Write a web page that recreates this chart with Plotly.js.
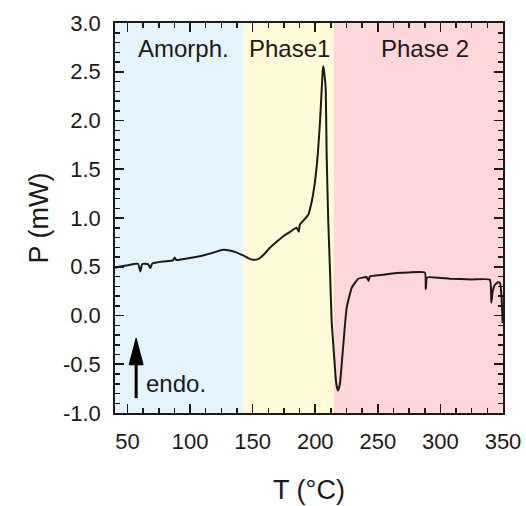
<!DOCTYPE html>
<html>
<head>
<meta charset="utf-8">
<script src="https://cdn.plot.ly/plotly-3.0.1.min.js"></script>
<style>html,body{margin:0;padding:0;background:#fff}#chart{width:526px;height:506px}</style>
</head>
<body>
<div id="chart"></div>
<script>
// Temperature (°C) and power (mW)
const temperature = [
  40.2, 41.0, 49.0, 58.4, 60.2, 61.8, 66.4, 68.2, 69.8, 78.4, 86.3, 87.7, 89.0,
  99.7, 110.3, 118.3, 126.3, 131.6, 136.9, 142.3, 146.3, 150.3, 154.3, 158.2,
  163.6, 168.9, 174.2, 179.6, 185.0, 186.8, 187.6, 189.5, 194.4, 197.2, 199.8,
  202.0, 203.8, 205.2, 205.9, 206.4, 207.1, 208.3, 209.1, 210.4, 211.8, 213.1,
  215.0, 216.6, 218.0, 219.6, 222.4, 225.1, 229.1, 231.8, 234.3, 241.0, 242.6,
  243.6, 254.3, 265.0, 275.0, 287.6, 288.3, 289.3, 300.0, 307.6, 325.0, 339.5,
  340.7, 341.8, 343.5, 346.0, 347.6, 348.8, 349.7
];
const power = [
  0.49, 0.493, 0.513, 0.531, 0.452, 0.528, 0.528, 0.487, 0.534, 0.555, 0.565, 0.595, 0.569,
  0.589, 0.616, 0.644, 0.675, 0.667, 0.647, 0.616, 0.589, 0.572, 0.579, 0.616,
  0.692, 0.753, 0.811, 0.856, 0.90, 0.86, 0.93, 0.96, 1.034, 1.17, 1.376,
  1.65, 1.99, 2.335, 2.50, 2.556, 2.50, 2.335, 1.65, 0.965, 0.452, -0.062,
  -0.404, -0.678, -0.77, -0.71, -0.30, 0.079, 0.284, 0.336, 0.377, 0.394, 0.355,
  0.40, 0.418, 0.435, 0.442, 0.44, 0.27, 0.39, 0.385, 0.377, 0.37, 0.367,
  0.134, 0.25, 0.315, 0.34, 0.333, 0.2, -0.08
];

// Phase regions (°C boundaries), colours and labels
const regionStart = [40, 142, 215];
const regionEnd   = [142, 215, 350];
const regionColor = ['#e4f4fd', '#fffad8', '#ffd6d9'];
const regionLabel = ['Amorph.', 'Phase1', 'Phase 2'];
const regionLabelX = [95, 179.5, 288];
const regionLabelY = 2.74;

// Axis ticks (y labels written with an ASCII hyphen, as in the original)
const xTickStart = 50, xTickStep = 50, xMinorStep = 12.5;
const yTickVals = [-1.0, -0.5, 0.0, 0.5, 1.0, 1.5, 2.0, 2.5, 3.0];
const yTickText = ['-1.0', '-0.5', '0.0', '0.5', '1.0', '1.5', '2.0', '2.5', '3.0'];
const yMinorStep = 0.1;

const FONT = 'Liberation Sans, Arial, Helvetica, sans-serif';
const INK = '#1c1a17';

const shapes = regionStart.map((s, i) => ({
  type: 'rect', xref: 'x', yref: 'paper', x0: s, x1: regionEnd[i], y0: 0, y1: 1,
  fillcolor: regionColor[i], line: {width: 0}, layer: 'below'
}));
// "endo." arrow: shaft and head
shapes.push({type: 'line', xref: 'x', yref: 'y', x0: 56.9, x1: 56.9, y0: -0.848, y1: -0.49,
  line: {color: '#000', width: 3}});
shapes.push({type: 'path', xref: 'x', yref: 'y',
  path: 'M 51.3 -0.506 L 62.5 -0.506 L 56.9 -0.232 Z',
  fillcolor: '#000', line: {color: '#000', width: 1}});

const annotations = regionLabel.map((t, i) => ({
  x: regionLabelX[i], y: regionLabelY, xref: 'x', yref: 'y', text: t, showarrow: false,
  xanchor: 'center', yanchor: 'middle', font: {family: FONT, size: 24, color: '#1a1a1a'}
}));
annotations.push({x: 63.2, y: -0.70, xref: 'x', yref: 'y', text: 'endo.', showarrow: false,
  xanchor: 'left', yanchor: 'middle', font: {family: FONT, size: 24, color: '#1a1a1a'}});

const axisCommon = {
  showline: true, linecolor: INK, linewidth: 1.8, mirror: 'ticks',
  ticks: 'inside', ticklen: 9, tickwidth: 1.6, tickcolor: INK,
  showgrid: false, zeroline: false,
  tickfont: {family: FONT, size: 22, color: '#1a1a1a'}
};

const layout = {
  width: 526, height: 506,
  margin: {l: 115, r: 23, t: 23, b: 93},
  paper_bgcolor: '#fff', plot_bgcolor: '#fff',
  showlegend: false,
  shapes: shapes, annotations: annotations,
  xaxis: Object.assign({}, axisCommon, {
    range: [40, 350], tickmode: 'linear', tick0: xTickStart, dtick: xTickStep,
    ticklabelstandoff: 8,
    minor: {tickmode: 'linear', tick0: xTickStart, dtick: xMinorStep, ticklen: 5, tickwidth: 1.5,
      tickcolor: INK, ticks: 'inside'},
    title: {text: 'T (°C)', standoff: 27, font: {family: FONT, size: 27, color: '#1a1a1a'}}
  }),
  yaxis: Object.assign({}, axisCommon, {
    range: [-1, 3], tickmode: 'array', tickvals: yTickVals, ticktext: yTickText,
    ticklabelstandoff: 8,
    minor: {tick0: 0, dtick: yMinorStep, ticklen: 5, tickwidth: 1.5, tickcolor: INK, ticks: 'inside'},
    title: {text: 'P (mW)', standoff: 6, font: {family: FONT, size: 27, color: '#1a1a1a'}}
  })
};

const trace = {
  x: temperature, y: power, type: 'scatter', mode: 'lines',
  line: {color: INK, width: 2, shape: 'spline', smoothing: 0.4},
  hoverinfo: 'skip'
};

Plotly.newPlot('chart', [trace], layout, {staticPlot: true, displayModeBar: false});
</script>
</body>
</html>
